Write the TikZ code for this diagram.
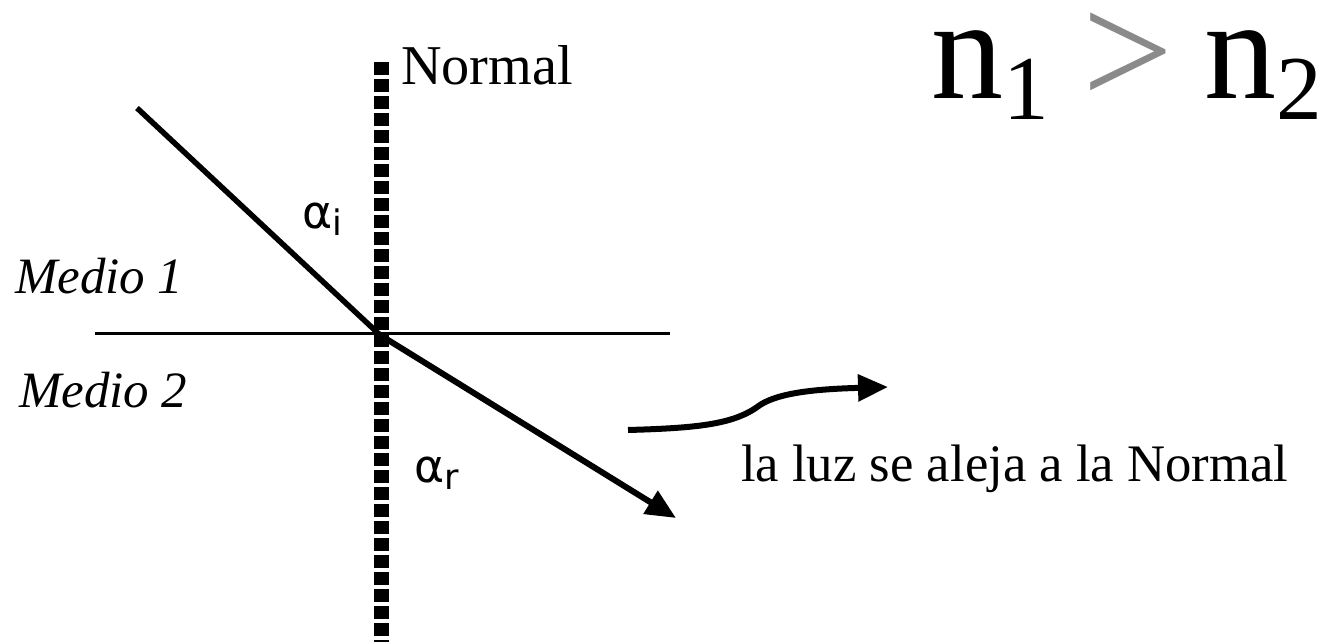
\documentclass[tikz,border=0pt]{standalone}
\usepackage{fontspec}
\setmainfont{Liberation Serif}
\newfontfamily\alphafont{DejaVu Sans}
\usetikzlibrary{arrows.meta}
\definecolor{cgrey}{HTML}{8A8A8A}
\tikzset{
  every picture/.style={line width=1.2pt},
  ray/.style={draw=black, line width=0.11cm},
  rayarrow/.style={-{Triangle[length=0.6cm, width=0.52cm]}, draw=black, line width=0.12cm},
  normalline/.style={draw=black, line width=0.3cm, dash pattern=on 0.26cm off 0.08cm},
  medio/.style={font=\fontsize{29}{32}\selectfont\itshape, anchor=base west, inner sep=0pt},
  anglelabel/.style={font=\alphafont\fontsize{26}{30}\selectfont, anchor=base west, inner sep=0pt},
  note/.style={font=\fontsize{30}{34}\selectfont, anchor=base west, inner sep=0pt},
}
\newcommand{\angsub}[1]{\raisebox{-4pt}{\fontsize{20}{24}\selectfont #1}}

\begin{document}
\begin{tikzpicture}[x=0.02cm, y=-0.02cm]
  \useasboundingbox (0,0) rectangle (1328,642);
  % points of the rays
  \coordinate (src) at (137,108);
  \coordinate (hit) at (380,335);
  \coordinate (dst) at (676,518);
  \coordinate (ntop) at (381,62);
  \coordinate (nbot) at (381,642);
  \coordinate (sl) at (95,333);
  \coordinate (sr) at (670,333);
  \coordinate (ws) at (628,430);
  \coordinate (we) at (888,387);
  % normal, surface and rays
  \draw[normalline] (ntop) -- (nbot);
  \draw[line width=0.06cm] (sl) -- (sr);
  \draw[ray] (src) -- (hit);
  \draw[rayarrow] (hit) -- (dst);
  \draw[rayarrow] (ws) .. controls (700,428) and (735,424) .. (760,405) .. controls (780,392) and (820,389) .. (we);
  % labels
  \node[note, font=\fontsize{32}{36}\selectfont] (normal) at (400,85) {Normal};
  \node[medio] (m1) at (14,293) {Medio 1};
  \node[medio] (m2) at (18,407) {Medio 2};
  \node[anglelabel] (ai) at (301,228) {α\angsub{i}};
  \node[anglelabel] (ar) at (413,482) {α\angsub{r}};
  \node[note] (away) at (740,481) {la luz se aleja a la Normal};
  \node[anchor=base west, inner sep=0pt, text height=1.6cm, font=\fontsize{82}{90}\selectfont] (rel) at (930,98)
    {n\raisebox{-12pt}{\fontsize{52}{56}\selectfont 1}\hspace{19pt}\raisebox{-4pt}{\fontsize{92}{100}\selectfont\color{cgrey}>}\hspace{18pt}n\raisebox{-12pt}{\fontsize{52}{56}\selectfont 2}};
\end{tikzpicture}
\end{document}
